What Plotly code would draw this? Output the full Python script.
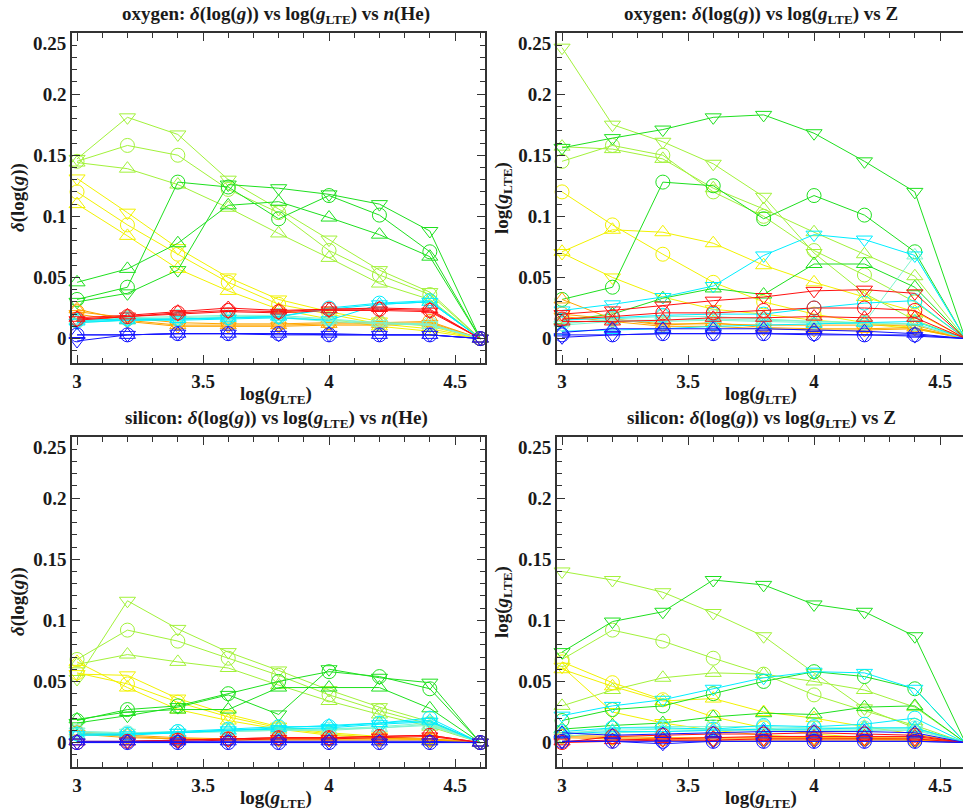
import plotly.graph_objects as go

# surface gravity grid, log(g_LTE)
log_g = [3.0, 3.2, 3.4, 3.6, 3.8, 4.0, 4.2, 4.4, 4.6]

# each colour group holds three series: circle, triangle-up, triangle-down
# ---- oxygen, by n(He) ----
oxy_he_chartreuse = [
    [0.145, 0.158, 0.150, 0.122, 0.103, 0.072, 0.052, 0.036, 0],
    [0.144, 0.139, 0.126, 0.107, 0.086, 0.066, 0.045, 0.032, 0],
    [0.147, 0.181, 0.167, 0.130, 0.106, 0.081, 0.056, 0.038, 0],
]
oxy_he_green = [
    [0.032, 0.042, 0.128, 0.124, 0.098, 0.117, 0.101, 0.071, 0],
    [0.046, 0.057, 0.078, 0.109, 0.112, 0.099, 0.085, 0.067, 0],
    [0.030, 0.037, 0.056, 0.126, 0.123, 0.118, 0.110, 0.088, 0],
]
oxy_he_yellow = [
    [0.120, 0.093, 0.069, 0.046, 0.028, 0.020, 0.012, 0.008, 0],
    [0.110, 0.084, 0.057, 0.039, 0.024, 0.016, 0.010, 0.006, 0],
    [0.131, 0.103, 0.074, 0.050, 0.032, 0.022, 0.014, 0.010, 0],
]
oxy_he_orange = [
    [0.022, 0.017, 0.013, 0.012, 0.012, 0.013, 0.013, 0.014, 0],
    [0.024, 0.015, 0.011, 0.011, 0.011, 0.012, 0.012, 0.013, 0],
    [0.020, 0.014, 0.010, 0.010, 0.010, 0.011, 0.011, 0.012, 0],
]
oxy_he_aqua = [
    [0.014, 0.017, 0.018, 0.019, 0.019, 0.016, 0.013, 0.012, 0],
    [0.015, 0.016, 0.017, 0.018, 0.018, 0.015, 0.013, 0.011, 0],
    [0.013, 0.015, 0.016, 0.017, 0.017, 0.014, 0.012, 0.011, 0],
]
oxy_he_cyan = [
    [0.015, 0.016, 0.016, 0.017, 0.018, 0.025, 0.029, 0.031, 0],
    [0.014, 0.015, 0.016, 0.017, 0.018, 0.024, 0.028, 0.030, 0],
    [0.013, 0.015, 0.015, 0.016, 0.017, 0.015, 0.028, 0.030, 0],
]
oxy_he_red = [
    [0.016, 0.018, 0.021, 0.023, 0.022, 0.024, 0.024, 0.023, 0],
    [0.017, 0.019, 0.022, 0.025, 0.023, 0.024, 0.025, 0.024, 0],
    [0.015, 0.018, 0.020, 0.022, 0.021, 0.023, 0.023, 0.022, 0],
]
oxy_he_blue = [
    [0.003, 0.003, 0.004, 0.004, 0.004, 0.003, 0.003, 0.003, 0],
    [0.003, 0.003, 0.004, 0.004, 0.004, 0.004, 0.003, 0.003, 0],
    [-0.002, 0.003, 0.004, 0.004, 0.003, 0.003, 0.003, 0.003, 0],
]

# ---- oxygen, by Z ----
oxy_z_chartreuse = [
    [0.145, 0.158, 0.150, 0.120, 0.100, 0.072, 0.052, 0.030, 0],
    [0.157, 0.155, 0.147, 0.123, 0.106, 0.087, 0.069, 0.051, 0],
    [0.238, 0.175, 0.161, 0.143, 0.116, 0.070, 0.037, 0.015, 0],
]
oxy_z_green = [
    [0.032, 0.042, 0.128, 0.125, 0.098, 0.117, 0.101, 0.071, 0],
    [0.015, 0.020, 0.033, 0.041, 0.036, 0.061, 0.061, 0.042, 0],
    [0.156, 0.164, 0.171, 0.181, 0.183, 0.168, 0.145, 0.120, 0],
]
oxy_z_yellow = [
    [0.120, 0.093, 0.069, 0.046, 0.030, 0.020, 0.013, 0.009, 0],
    [0.071, 0.089, 0.087, 0.078, 0.060, 0.046, 0.034, 0.022, 0],
    [0.070, 0.050, 0.034, 0.024, 0.020, 0.015, 0.012, 0.008, 0],
]
oxy_z_orange = [
    [0.020, 0.016, 0.012, 0.012, 0.011, 0.011, 0.011, 0.011, 0],
    [0.032, 0.016, 0.011, 0.013, 0.009, 0.008, 0.008, 0.009, 0],
    [0.018, 0.014, 0.010, 0.010, 0.008, 0.007, 0.007, 0.008, 0],
]
oxy_z_aqua = [
    [0.012, 0.016, 0.018, 0.018, 0.016, 0.014, 0.013, 0.012, 0],
    [0.013, 0.015, 0.015, 0.016, 0.015, 0.014, 0.013, 0.068, 0],
    [0.011, 0.014, 0.014, 0.015, 0.014, 0.013, 0.012, 0.012, 0],
]
oxy_z_cyan = [
    [0.015, 0.017, 0.019, 0.020, 0.020, 0.025, 0.029, 0.031, 0],
    [0.006, 0.007, 0.008, 0.010, 0.011, 0.012, 0.013, 0.014, 0],
    [0.023, 0.028, 0.034, 0.043, 0.068, 0.085, 0.081, 0.068, 0],
]
oxy_z_red = [
    [0.016, 0.018, 0.021, 0.021, 0.023, 0.025, 0.025, 0.023, 0],
    [0.014, 0.014, 0.015, 0.017, 0.017, 0.018, 0.017, 0.017, 0],
    [0.020, 0.023, 0.027, 0.031, 0.034, 0.039, 0.040, 0.037, 0],
]
oxy_z_blue = [
    [0.003, 0.003, 0.004, 0.004, 0.004, 0.004, 0.003, 0.003, 0],
    [0.005, 0.008, 0.008, 0.008, 0.008, 0.007, 0.006, 0.004, 0],
    [0.001, 0.003, 0.004, 0.004, 0.004, 0.003, 0.003, 0.002, 0],
]

# ---- silicon, by n(He) ----
si_he_chartreuse = [
    [0.068, 0.092, 0.083, 0.069, 0.055, 0.039, 0.026, 0.015, 0],
    [0.064, 0.072, 0.066, 0.061, 0.047, 0.034, 0.023, 0.013, 0],
    [0.052, 0.116, 0.093, 0.074, 0.059, 0.043, 0.029, 0.017, 0],
]
si_he_green = [
    [0.018, 0.027, 0.030, 0.040, 0.050, 0.058, 0.054, 0.044, 0],
    [0.019, 0.025, 0.027, 0.027, 0.045, 0.045, 0.045, 0.028, 0],
    [0.016, 0.022, 0.029, 0.039, 0.023, 0.060, 0.053, 0.049, 0],
]
si_he_yellow = [
    [0.057, 0.048, 0.033, 0.021, 0.012, 0.007, 0.004, 0.002, 0],
    [0.066, 0.045, 0.027, 0.018, 0.011, 0.006, 0.004, 0.002, 0],
    [0.056, 0.055, 0.036, 0.023, 0.013, 0.008, 0.005, 0.003, 0],
]
si_he_orange = [
    [0.008, 0.005, 0.003, 0.003, 0.003, 0.003, 0.003, 0.003, 0],
    [0.009, 0.006, 0.004, 0.003, 0.003, 0.003, 0.003, 0.003, 0],
    [0.007, 0.004, 0.003, 0.002, 0.002, 0.002, 0.002, 0.002, 0],
]
si_he_aqua = [
    [0.009, 0.008, 0.009, 0.010, 0.011, 0.011, 0.013, 0.016, 0],
    [0.008, 0.007, 0.008, 0.009, 0.010, 0.010, 0.012, 0.014, 0],
    [0.009, 0.008, 0.008, 0.009, 0.010, 0.011, 0.012, 0.015, 0],
]
si_he_cyan = [
    [0.007, 0.007, 0.009, 0.011, 0.013, 0.013, 0.016, 0.020, 0],
    [0.006, 0.007, 0.008, 0.010, 0.012, 0.014, 0.016, 0.018, 0],
    [0.006, 0.006, 0.008, 0.010, 0.011, 0.012, 0.015, 0.017, 0],
]
si_he_red = [
    [0.000, 0.001, 0.002, 0.003, 0.004, 0.004, 0.005, 0.006, 0],
    [0.001, 0.001, 0.002, 0.003, 0.004, 0.004, 0.005, 0.006, 0],
    [0.000, 0.001, 0.001, 0.002, 0.003, 0.003, 0.004, 0.005, 0],
]
si_he_blue = [
    [0.000, 0.000, 0.000, 0.000, 0.000, 0.000, 0.000, 0.000, 0],
    [0.001, 0.001, 0.001, 0.001, 0.001, 0.001, 0.001, 0.001, 0],
    [0.000, 0.000, 0.000, 0.000, 0.000, 0.000, 0.000, 0.000, 0],
]

# ---- silicon, by Z ----
si_z_chartreuse = [
    [0.068, 0.092, 0.083, 0.069, 0.056, 0.039, 0.026, 0.014, 0],
    [0.030, 0.043, 0.053, 0.057, 0.056, 0.050, 0.043, 0.029, 0],
    [0.140, 0.133, 0.123, 0.106, 0.087, 0.057, 0.028, 0.012, 0],
]
si_z_green = [
    [0.018, 0.027, 0.030, 0.040, 0.050, 0.058, 0.054, 0.044, 0],
    [0.011, 0.014, 0.016, 0.021, 0.024, 0.023, 0.029, 0.030, 0],
    [0.074, 0.099, 0.107, 0.133, 0.129, 0.113, 0.107, 0.087, 0],
]
si_z_yellow = [
    [0.066, 0.049, 0.035, 0.021, 0.012, 0.007, 0.004, 0.002, 0],
    [0.060, 0.046, 0.034, 0.036, 0.025, 0.020, 0.013, 0.007, 0],
    [0.062, 0.025, 0.016, 0.010, 0.006, 0.004, 0.003, 0.002, 0],
]
si_z_orange = [
    [0.005, 0.004, 0.003, 0.003, 0.003, 0.003, 0.003, 0.003, 0],
    [0.006, 0.005, 0.004, 0.004, 0.004, 0.004, 0.004, 0.004, 0],
    [0.004, 0.003, 0.002, 0.002, 0.002, 0.002, 0.002, 0.002, 0],
]
si_z_aqua = [
    [0.006, 0.012, 0.013, 0.013, 0.013, 0.012, 0.012, 0.012, 0],
    [0.008, 0.010, 0.011, 0.011, 0.011, 0.011, 0.011, 0.011, 0],
    [0.005, 0.008, 0.009, 0.010, 0.010, 0.010, 0.010, 0.010, 0],
]
si_z_cyan = [
    [0.009, 0.012, 0.012, 0.011, 0.014, 0.013, 0.015, 0.020, 0],
    [0.007, 0.009, 0.009, 0.010, 0.011, 0.011, 0.012, 0.012, 0],
    [0.022, 0.030, 0.035, 0.044, 0.053, 0.058, 0.057, 0.044, 0],
]
si_z_red = [
    [0.000, 0.005, 0.006, 0.007, 0.007, 0.008, 0.007, 0.006, 0],
    [0.001, 0.002, 0.003, 0.004, 0.005, 0.005, 0.005, 0.005, 0],
    [0.000, 0.001, 0.002, 0.002, 0.003, 0.003, 0.003, 0.003, 0],
]
si_z_blue = [
    [0.001, 0.001, 0.001, 0.001, 0.001, 0.001, 0.001, 0.001, 0],
    [0.008, 0.006, 0.007, 0.008, 0.009, 0.009, 0.009, 0.008, 0],
    [0.001, 0.001, -0.001, 0.001, 0.001, 0.001, 0.001, 0.001, 0],
]

colours = {
    "chartreuse": "#a2f23a",
    "yellow": "#f2f200",
    "green": "#1ee01e",
    "orange": "#ffa500",
    "aqua": "#7ff5cf",
    "cyan": "#00eeff",
    "red": "#ff1010",
    "blue": "#1414ff",
}
symbols = ["circle-open", "triangle-up-open", "triangle-down-open"]

panels = [
    # (xaxis, yaxis, groups in drawing order)
    ("x", "y", [("chartreuse", oxy_he_chartreuse), ("yellow", oxy_he_yellow),
                ("green", oxy_he_green), ("orange", oxy_he_orange),
                ("aqua", oxy_he_aqua), ("cyan", oxy_he_cyan),
                ("red", oxy_he_red), ("blue", oxy_he_blue)]),
    ("x2", "y2", [("chartreuse", oxy_z_chartreuse), ("yellow", oxy_z_yellow),
                  ("green", oxy_z_green), ("orange", oxy_z_orange),
                  ("aqua", oxy_z_aqua), ("cyan", oxy_z_cyan),
                  ("red", oxy_z_red), ("blue", oxy_z_blue)]),
    ("x3", "y3", [("chartreuse", si_he_chartreuse), ("yellow", si_he_yellow),
                  ("green", si_he_green), ("orange", si_he_orange),
                  ("aqua", si_he_aqua), ("cyan", si_he_cyan),
                  ("red", si_he_red), ("blue", si_he_blue)]),
    ("x4", "y4", [("chartreuse", si_z_chartreuse), ("yellow", si_z_yellow),
                  ("green", si_z_green), ("orange", si_z_orange),
                  ("aqua", si_z_aqua), ("cyan", si_z_cyan),
                  ("red", si_z_red), ("blue", si_z_blue)]),
]

fig = go.Figure()
for xa, ya, groups in panels:
    for cname, rows in groups:
        col = colours[cname]
        for sym, vals in zip(symbols, rows):
            fig.add_trace(go.Scatter(
                x=log_g, y=vals, xaxis=xa, yaxis=ya, mode="lines+markers",
                line=dict(color=col, width=1),
                marker=dict(symbol=sym, size=14, color=col, line=dict(color=col, width=1)),
                cliponaxis=False, showlegend=False, hoverinfo="skip"))

W, H = 963, 812
FONT = "Liberation Serif, Times New Roman, serif"
TXT = "#1a1a1a"
tick_font = dict(family=FONT, size=19, color=TXT, weight="bold")

# plot-area rectangles in pixels: (left, right, top, bottom)
boxes = {
    "1": (72, 485, 33, 363),
    "2": (557, 963, 33, 363),
    "3": (72, 485, 437, 767),
    "4": (557, 963, 437, 767),
}
x_lo = 2.98
px_per_unit = 252.0

yvals = [0, 0.05, 0.1, 0.15, 0.2]
ytext = ["<b>%s</b>" % s for s in ["0", "0.05", "0.1", "0.15", "0.2"]]
xvals = [3, 3.5, 4, 4.5]
xtext = ["<b>%s</b>" % s for s in ["3", "3.5", "4", "4.5"]]

layout = dict(
    width=W, height=H, margin=dict(l=0, r=0, t=0, b=0),
    paper_bgcolor="white", plot_bgcolor="white", showlegend=False,
)
axis_common = dict(
    showline=True, linecolor="#333333", linewidth=1.5,
    ticks="inside", tickcolor="#333333", tickwidth=1.2, ticklen=8,
    showgrid=False, zeroline=False, tickfont=tick_font,
)
for key, (l, r, t, b) in boxes.items():
    sfx = "" if key == "1" else key
    x_hi = x_lo + (r - l) / px_per_unit
    # right-hand panels run off the page edge, so their right frame is not drawn
    right_side_off_page = key in ("2", "4")
    layout["xaxis" + sfx] = dict(
        axis_common, mirror="allticks", domain=[l / W, r / W], range=[x_lo, x_hi],
        anchor="y" + sfx, tickvals=xvals, ticktext=xtext,
        minor=dict(dtick=0.1, tick0=3.0, ticks="inside", ticklen=5, tickcolor="#333333"),
    )
    layout["yaxis" + sfx] = dict(
        axis_common, mirror=(False if right_side_off_page else "allticks"),
        domain=[1 - b / H, 1 - t / H], range=[-0.02, 0.25],
        anchor="x" + sfx, tickvals=yvals, ticktext=ytext,
        minor=dict(dtick=0.01, tick0=0, ticks="inside", ticklen=5, tickcolor="#333333"),
    )
fig.update_layout(**layout)

g_lte = "log(<i>g</i><sub>LTE</sub>)"
dlogg = "<i>δ</i>(log(<i>g</i>))"
titles = {
    "1": "oxygen: " + dlogg + " vs " + g_lte + " vs <i>n</i>(He)",
    "2": "oxygen: " + dlogg + " vs " + g_lte + " vs Z",
    "3": "silicon: " + dlogg + " vs " + g_lte + " vs <i>n</i>(He)",
    "4": "silicon: " + dlogg + " vs " + g_lte + " vs Z",
}
ytitles = {"1": dlogg, "2": g_lte, "3": dlogg, "4": g_lte}
title_font = dict(family=FONT, size=19, color=TXT, weight="bold")

for key, (l, r, t, b) in boxes.items():
    xc = (l + (l + (1.62 * px_per_unit))) / 2
    # panel title
    fig.add_annotation(text="<b>" + titles[key] + "</b>", xref="paper", yref="paper",
                       x=xc / W, y=1 - (t - 18) / H, showarrow=False,
                       xanchor="center", yanchor="middle", font=title_font)
    # x-axis title
    fig.add_annotation(text="<b>" + g_lte + "</b>", xref="paper", yref="paper",
                       x=xc / W, y=1 - (b + 32) / H, showarrow=False,
                       xanchor="center", yanchor="middle", font=title_font)
    # y-axis title
    fig.add_annotation(text="<b>" + ytitles[key] + "</b>", xref="paper", yref="paper",
                       x=(l - 54) / W, y=1 - ((t + b) / 2) / H, showarrow=False,
                       textangle=-90, xanchor="center", yanchor="middle", font=title_font)
    # top tick label sits just inside the frame
    fig.add_annotation(text="<b>0.25</b>", xref="paper", yref="paper",
                       x=(l - 4) / W, y=1 - (t + 10) / H, showarrow=False,
                       xanchor="right", yanchor="middle", font=tick_font)

fig.write_html("out.html")
